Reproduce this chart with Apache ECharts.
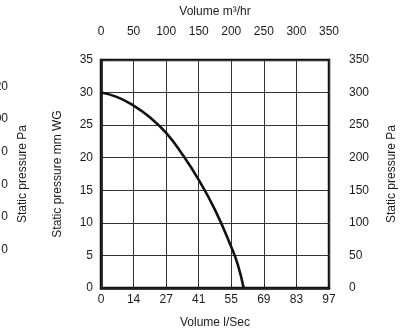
<!DOCTYPE html>
<html>
<head>
<meta charset="utf-8">
<script src="https://cdn.jsdelivr.net/npm/echarts@6/dist/echarts.min.js"></script>
<style>
  html, body { margin: 0; padding: 0; background: #fff; }
  #chart { width: 407px; height: 336px; }
</style>
</head>
<body>
<div id="chart"></div>
<script>
// fan curve: volume in m3/hr, static pressure in mm WG
const flowM3hr = [0, 25, 50, 75, 100, 125, 150, 175, 200, 210, 219];
const pressureMmWG = [30, 29.3, 28.0, 26.2, 23.8, 20.5, 16.6, 12.0, 6.3, 3.6, 0];

// bottom axis labels (l/Sec) at each 50 m3/hr step
const litreLabels = ['0', '14', '27', '41', '55', '69', '83', '97'];
// bits of a neighbouring chart's axis, cut off at the left edge
const ghostLabels = ['', '0', '0', '0', '0', '00', '20', ''];

const FONT = 'Liberation Sans';
const INK = '#1b1b1b';

const chart = echarts.init(document.getElementById('chart'));

const points = flowM3hr.map((x, i) => [x, pressureMmWG[i]]);

const option = {
  animation: false,
  textStyle: { fontFamily: FONT, color: INK },
  grid: {
    left: 101, top: 60, width: 228, height: 228,
    outerBoundsMode: 'none', containLabel: false,
    show: true, borderColor: '#111', borderWidth: 2.5, backgroundColor: 'transparent'
  },
  xAxis: [
    {
      type: 'value', position: 'bottom', min: 0, max: 350, interval: 50,
      axisLine: { show: true, lineStyle: { color: '#111', width: 2.5 } },
      axisTick: { show: false },
      splitLine: { show: true, lineStyle: { color: '#333', width: 1 } },
      axisLabel: {
        margin: 6, fontSize: 12, color: INK,
        formatter: v => litreLabels[Math.round(v / 50)]
      },
      name: 'Volume l/Sec', nameLocation: 'middle', nameGap: 29,
      nameTextStyle: { fontSize: 12, color: INK }
    },
    {
      type: 'value', position: 'top', offset: 14, min: 0, max: 350, interval: 50,
      axisLine: { show: true, lineStyle: { color: '#222', width: 1.2 } },
      axisTick: { show: true, length: 4, lineStyle: { color: '#222' } },
      splitLine: { show: false },
      axisLabel: { margin: 8, fontSize: 12, color: INK },
      name: 'Volume m³/hr', nameLocation: 'middle', nameGap: 28,
      nameTextStyle: { fontSize: 12, color: INK }
    }
  ],
  yAxis: [
    {
      type: 'value', position: 'left', min: 0, max: 35, interval: 5,
      axisLine: { show: true, lineStyle: { color: '#111', width: 2.5 } },
      axisTick: { show: false },
      splitLine: { show: true, lineStyle: { color: '#333', width: 1 } },
      axisLabel: { margin: 8, fontSize: 12, color: INK },
      name: 'Static pressure mm WG', nameLocation: 'middle', nameGap: 37,
      nameTextStyle: { fontSize: 12, color: INK }
    },
    {
      type: 'value', position: 'right', offset: 12, min: 0, max: 350, interval: 50,
      axisLine: { show: true, lineStyle: { color: '#222', width: 1.2 } },
      axisTick: { show: true, length: 4, lineStyle: { color: '#222' } },
      splitLine: { show: false },
      axisLabel: { margin: 8, fontSize: 12, color: INK },
      name: 'Static pressure Pa', nameLocation: 'middle', nameGap: 45,
      nameTextStyle: { fontSize: 12, color: INK }
    },
    {
      type: 'value', position: 'left', offset: 72, min: 0, max: 35, interval: 5,
      axisLine: { show: false },
      axisTick: { show: false },
      splitLine: { show: false },
      axisLabel: {
        margin: 21, fontSize: 12, color: INK, verticalAlign: 'bottom',
        formatter: v => ghostLabels[Math.round(v / 5)]
      },
      name: 'Static pressure Pa', nameLocation: 'middle', nameGap: 0,
      nameMoveOverlap: false,
      nameTextStyle: { fontSize: 12, color: INK }
    }
  ],
  series: [
    {
      type: 'line', xAxisIndex: 0, yAxisIndex: 0,
      data: points, smooth: 0.5, showSymbol: false,
      lineStyle: { color: '#111', width: 2.6 }
    }
  ]
};

chart.setOption(option);
</script>
</body>
</html>
